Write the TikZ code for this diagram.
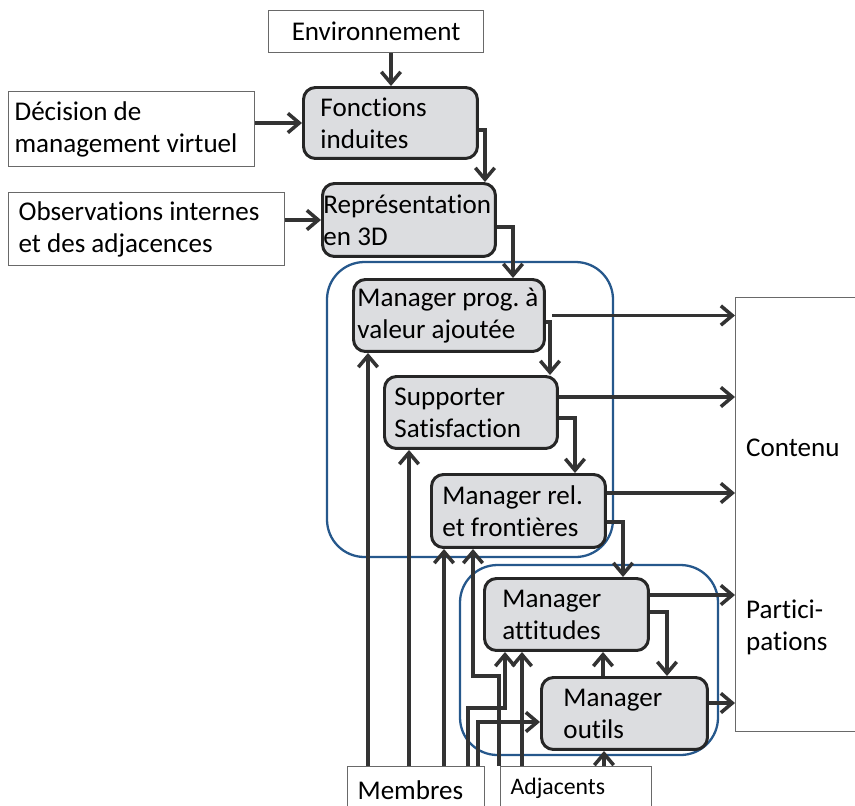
\documentclass[tikz,border=0pt]{standalone}
\usepackage{fontspec}
\setmainfont[Ligatures=NoCommon]{Carlito}
\usepackage{tikz}
\usetikzlibrary{arrows.meta}
\definecolor{mgrfill}{RGB}{220,221,224}
\definecolor{grpblue}{RGB}{38,88,140}
\definecolor{linegray}{RGB}{51,51,51}
\definecolor{boxgray}{RGB}{105,105,105}

\begin{document}
\begin{tikzpicture}[x=0.02cm,y=-0.02cm,font=\fontsize{15.4}{18.2}\selectfont,
        inbox/.style={draw=boxgray,line width=0.7pt,anchor=north west,align=flush left},
        mgr/.style={draw=black!85,fill=mgrfill,line width=1.7pt,rounded corners=0.24cm,
                anchor=north west,align=flush left,minimum height=1.44cm},
        flow/.style={draw=linegray,line width=2pt,-{Straight Barb[length=6.5pt,width=11pt]}},
        grp/.style={draw=grpblue,line width=1.3pt,rounded corners=0.75cm}] % manager roles
        \useasboundingbox (0,0) rectangle (855,805);
        \draw[grp] (327,262) rectangle (613,557);
        \draw[grp] (460,565) rectangle (718,755);
        \node[inbox,minimum width=4.3cm,minimum height=0.84cm,align=center] (env) at (268,10) {Environnement};
        \node[inbox,text width=4.68cm,inner xsep=0.12cm,minimum height=1.5cm] (decision) at (8,91) {Décision~de\\management~virtuel};
        \node[inbox,text width=5.12cm,inner xsep=0.2cm,minimum height=1.46cm] (observ) at (8,192) {Observations~internes\\et~des~adjacences};
        \node[mgr,text width=2.8cm,inner xsep=0.34cm,minimum height=1.42cm] (fonctions) at (302,86) {Fonctions\\induites};
        \node[mgr,text width=3.42cm,inner xsep=0.02cm,minimum height=1.46cm] (repr) at (321,182) {Représentation\\en~3D};
        \node[mgr,text width=3.66cm,inner xsep=0.08cm] (prog) at (352,278) {Manager~prog.~à\\valeur~ajoutée};
        \node[mgr,text width=3.06cm,inner xsep=0.2cm] (supp) at (383,375) {Supporter\\Satisfaction};
        \node[mgr,text width=3.04cm,inner xsep=0.22cm,minimum height=1.46cm] (rel) at (430,473) {Manager~rel.\\et~frontières};
        \node[mgr,text width=2.56cm,inner xsep=0.36cm] (att) at (483,577) {Manager\\attitudes};
        \node[mgr,text width=2.44cm,inner xsep=0.44cm] (out) at (540,676) {Manager\\outils};
        \node[inbox,minimum width=3cm,minimum height=8.68cm] (contenu) at (735,297) {};
        \node[anchor=west] (contenutxt) at (740,448) {Contenu};
        \node[anchor=west,align=flush left] (particip) at (740,627) {Partici-\\pations};
        \node[inbox,text width=2.34cm,inner xsep=0.2cm,text height=0.55cm,text depth=0.5cm] (membres) at (347,766) {Membres};
        \node[inbox,text width=2.62cm,inner xsep=0.2cm,text height=0.44cm,text depth=0.5cm,
                font=\fontsize{13.5}{16}\selectfont] (adj) at (500,766) {Adjacents};
        % chain down the boxes
        \draw[flow] (env.south -| 391,0) -- (fonctions.north -| 391,0);
        \draw[flow] (decision.east |- fonctions.west) -- (fonctions.west);
        \draw[flow] (fonctions.east |- 0,130) -| (repr.north -| 485,0);
        \draw[flow] (observ.east |- repr.west) -- (repr.west);
        \draw[flow] (repr.east |- 0,227) -| (prog.north -| 513,0);
        \draw[flow] (prog.east |- 0,322) -| (supp.north -| 550,0);
        \draw[flow] (supp.east |- 0,418) -| (rel.north -| 575,0);
        \draw[flow] (rel.east |- 0,522) -| (att.north -| 623,0);
        \draw[flow] (att.east |- 0,612) -| (out.north -| 667,0);
        \draw[flow] (out.north -| 603,0) -- (att.south -| 603,0);
        % outputs
        \draw[flow] (prog.east -| 552,0) -- (contenu.west |- prog.east);
        \draw[flow] (supp.east |- 0,397) -- (contenu.west |- 0,397);
        \draw[flow] (rel.east |- 0,493) -- (contenu.west |- 0,493);
        \draw[flow] (att.east |- 0,595) -- (contenu.west |- 0,595);
        \draw[flow] (out.east |- 0,703) -- (contenu.west |- 0,703);
        % inputs from below
        \draw[flow] (membres.north -| 368,0) -- (prog.south -| 368,0);
        \draw[flow] (membres.north -| 409,0) -- (supp.south -| 409,0);
        \draw[flow] (membres.north -| 444,0) -- (rel.south -| 444,0);
        \draw[flow] (adj.north -| 499,0) |- (473,676) -- (rel.south -| 473,0);
        \draw[flow] (membres.north -| 468,0) |- (505,708) -- (att.south -| 505,0);
        \draw[flow] (adj.north -| 522,0) -- (att.south -| 522,0);
        \draw[flow] (membres.north -| 478,0) |- (out.west |- 0,722);
        \draw[flow] (adj.north -| 604,0) -- (out.south -| 604,0);
\end{tikzpicture}
\end{document}
